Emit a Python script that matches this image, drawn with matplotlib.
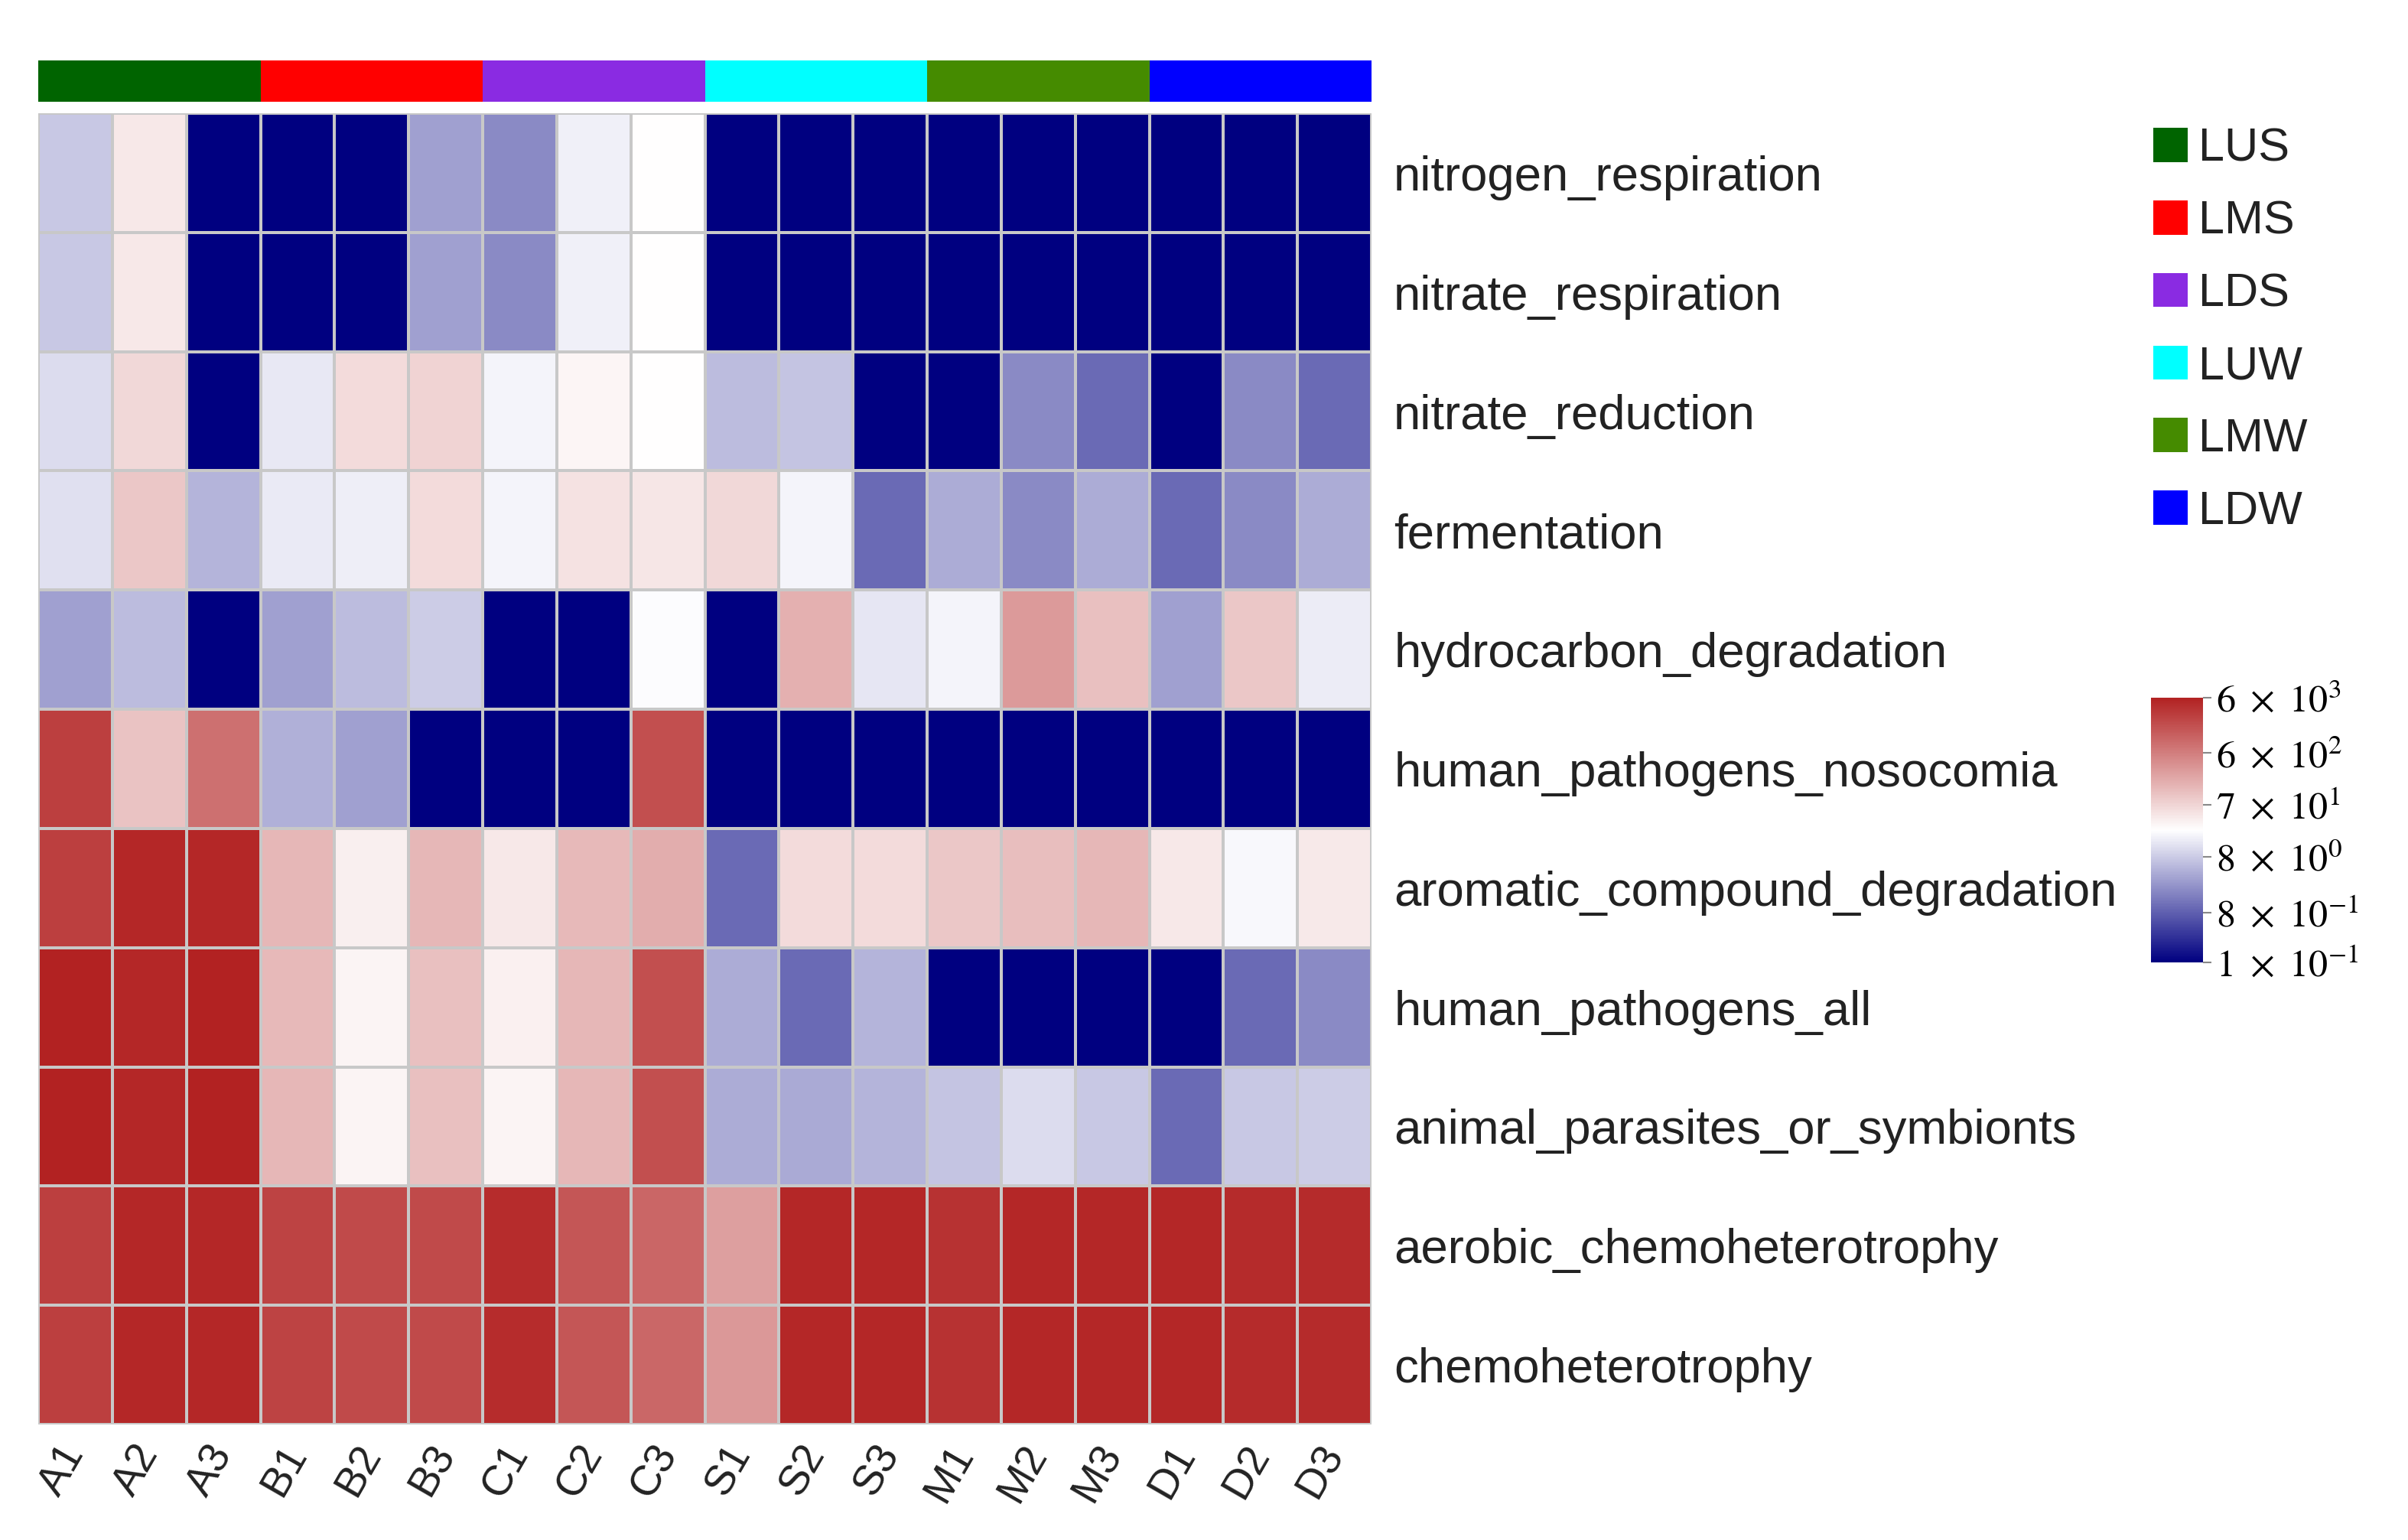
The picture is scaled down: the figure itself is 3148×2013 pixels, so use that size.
import numpy as np
import matplotlib
matplotlib.use('Agg')
import matplotlib.pyplot as plt
from matplotlib.colors import LinearSegmentedColormap, ListedColormap, LogNorm
from matplotlib.patches import Patch

# samples (columns) and functions (rows)
samples = ['A1', 'A2', 'A3', 'B1', 'B2', 'B3', 'C1', 'C2', 'C3',
           'S1', 'S2', 'S3', 'M1', 'M2', 'M3', 'D1', 'D2', 'D3']
functions = ['nitrogen_respiration', 'nitrate_respiration', 'nitrate_reduction',
             'fermentation', 'hydrocarbon_degradation', 'human_pathogens_nosocomia',
             'aromatic_compound_degradation', 'human_pathogens_all',
             'animal_parasites_or_symbionts', 'aerobic_chemoheterotrophy',
             'chemoheterotrophy']

# group annotation
groups = ['LUS', 'LMS', 'LDS', 'LUW', 'LMW', 'LDW']
group_colors = ['#006400', '#FF0000', '#8A2BE2', '#00FFFF', '#458B00', '#0000FF']
sample_group = [0, 0, 0, 1, 1, 1, 2, 2, 2, 3, 3, 3, 4, 4, 4, 5, 5, 5]

# abundances (0.1 = lowest colour)
nitrogen_respiration = [7.5, 44, 0.1, 0.1, 0.1, 3.2, 2.0, 18, 25,
                        0.1, 0.1, 0.1, 0.1, 0.1, 0.1, 0.1, 0.1, 0.1]
nitrate_respiration = [7.5, 44, 0.1, 0.1, 0.1, 3.2, 2.0, 18, 25,
                       0.1, 0.1, 0.1, 0.1, 0.1, 0.1, 0.1, 0.1, 0.1]
nitrate_reduction = [11.5, 65, 0.1, 15, 60, 72, 19.5, 31, 25,
                     5.8, 6.9, 0.1, 0.1, 2.0, 1.0, 0.1, 2.0, 1.0]
fermentation = [12.6, 97, 4.9, 15.4, 17, 59, 19.5, 50, 46,
                65, 19.5, 1.0, 4.1, 2.0, 4.1, 1.0, 2.0, 4.1]
hydrocarbon_degradation = [3.2, 5.8, 0.1, 3.2, 5.8, 8.1, 0.1, 0.1, 23,
                           0.1, 175, 14.3, 19.5, 303, 118, 3.2, 97, 16.3]
human_pathogens_nosocomia = [2850, 107, 865, 4.5, 3.2, 0.1, 0.1, 0.1, 1920,
                             0.1, 0.1, 0.1, 0.1, 0.1, 0.1, 0.1, 0.1, 0.1]
aromatic_compound_degradation = [2850, 5190, 5190, 144, 37.5, 144, 43.5, 140, 185,
                                 1.0, 59, 59, 101, 124, 144, 43.5, 21, 42]
human_pathogens_all = [6000, 5190, 6000, 140, 32, 118, 36, 144, 1920,
                       4.1, 1.0, 4.9, 0.1, 0.1, 0.1, 0.1, 1.0, 2.0]
animal_parasites_or_symbionts = [6000, 5190, 6000, 144, 32, 118, 32, 144, 1920,
                                 4.1, 3.9, 4.9, 6.9, 11.5, 7.5, 1.0, 7.5, 8.1]
aerobic_chemoheterotrophy = [2850, 5190, 5190, 2580, 2220, 2220, 4480, 1650, 1110,
                             262, 5190, 5190, 4050, 5190, 5190, 5190, 4700, 4700]
chemoheterotrophy = [2850, 5190, 5190, 2580, 2220, 2220, 4480, 1650, 1040,
                     319, 5190, 5190, 4050, 5190, 5190, 5190, 4700, 4700]

cbar_ticks = [0.1, 0.8, 8, 70, 600, 6000]
cbar_labels = [r'$1\ \times\ 10^{-1}$', r'$8\ \times\ 10^{-1}$', r'$8\ \times\ 10^{0}$',
               r'$7\ \times\ 10^{1}$', r'$6\ \times\ 10^{2}$', r'$6\ \times\ 10^{3}$']

data = np.array([nitrogen_respiration, nitrate_respiration, nitrate_reduction,
                 fermentation, hydrocarbon_degradation, human_pathogens_nosocomia,
                 aromatic_compound_degradation, human_pathogens_all,
                 animal_parasites_or_symbionts, aerobic_chemoheterotrophy,
                 chemoheterotrophy])

plt.rcParams['font.family'] = ['Liberation Sans', 'DejaVu Sans']
plt.rcParams['mathtext.fontset'] = 'stix'

cmap = LinearSegmentedColormap.from_list('nwf', ['#000080', '#FFFFFF', '#B22222'])
norm = LogNorm(vmin=0.1, vmax=6000)
txt_col = '#222222'

fig = plt.figure(figsize=(31.48, 20.13), dpi=100)
W, H = 3148, 2013

# main heatmap
ax = fig.add_axes([50 / W, 1 - 1862 / H, 1743 / W, 1714 / H])
mesh = ax.pcolormesh(data, cmap=cmap, norm=norm, edgecolors='#c8c8c8', linewidth=1.6)
ax.set_xlim(0, len(samples))
ax.set_ylim(len(functions), 0)
for s in ax.spines.values():
    s.set_visible(False)
ax.yaxis.tick_right()
ax.set_yticks(np.arange(len(functions)) + 0.5)
ax.set_yticklabels(functions, fontsize=45.7, color=txt_col)
ax.set_xticks(np.arange(len(samples)) + 0.5)
ax.set_xticklabels(samples, fontsize=40, color=txt_col, rotation=60,
                   ha='right', va='center', rotation_mode='anchor')
ax.tick_params(axis='both', length=0)
ax.tick_params(axis='y', pad=21)
ax.tick_params(axis='x', pad=22)

# group annotation bar
ax_ann = fig.add_axes([50 / W, 1 - 133 / H, 1743 / W, 54 / H])
ax_ann.pcolormesh(np.array([sample_group]), cmap=ListedColormap(group_colors),
                  vmin=-0.5, vmax=len(groups) - 0.5)
ax_ann.set_xlim(0, len(samples))
ax_ann.axis('off')

# legend for groups
handles = [Patch(facecolor=c, edgecolor='none', label=g)
           for g, c in zip(groups, group_colors)]
fig.legend(handles=handles, loc='upper left', bbox_to_anchor=(2784 / W, 1 - 136 / H),
           frameon=False, fontsize=44, handlelength=0.75, handleheight=0.75,
           handletextpad=0.22, labelspacing=0.62, labelcolor=txt_col, borderpad=0)

# colorbar
cax = fig.add_axes([2812 / W, 1 - 1258 / H, 68 / W, 346 / H])
cb = fig.colorbar(mesh, cax=cax, ticks=cbar_ticks)
cb.outline.set_visible(False)
cb.ax.set_yticklabels(cbar_labels)
cb.ax.minorticks_off()
cb.ax.tick_params(length=8, width=1.5, color='#888888', labelsize=36, pad=4,
                  labelcolor='black')

fig.savefig('out.png', dpi=100)
